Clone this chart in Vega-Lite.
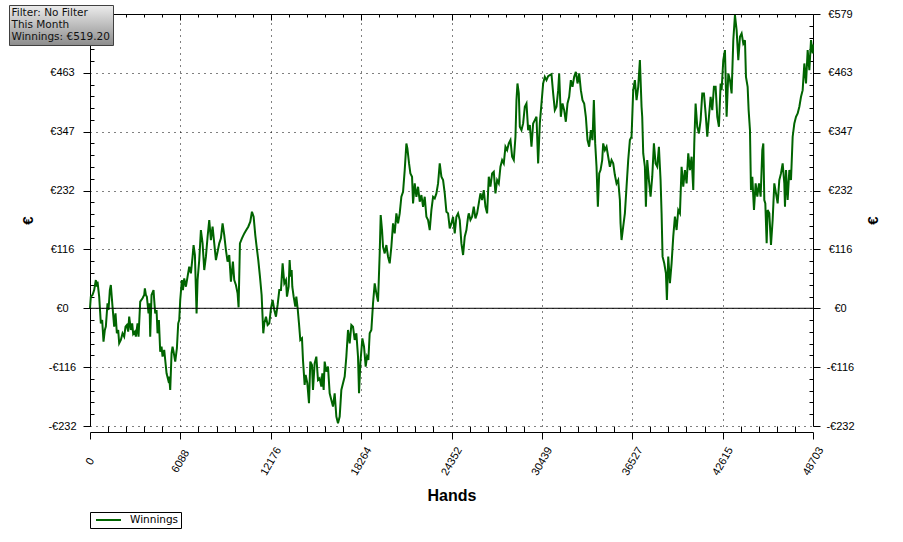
{
"$schema": "https://vega.github.io/schema/vega-lite/v6.json",
"width": 723, "height": 412,
"autosize": {"type": "none"},
"padding": {"left": 90, "top": 14, "right": 90, "bottom": 116},
"background": "white",
"config": {"view": {"stroke": null}, "font": "Liberation Sans"},
"datasets": {"winnings": [
{"h":0,"w":0},{"h":56,"w":22.8},{"h":169,"w":26.1},{"h":281,"w":35.9},{"h":393,"w":55.6},{"h":461,"w":42.5},{"h":506,"w":52.3},{"h":618,"w":22.8},{"h":730,"w":-29.6},{"h":820,"w":-23.0},{"h":910,"w":-65.6},{"h":1000,"w":-42.7},{"h":1067,"w":-36.1},{"h":1180,"w":9.7},{"h":1247,"w":-3.4},{"h":1337,"w":35.9},{"h":1404,"w":45.8},{"h":1517,"w":3.2},{"h":1629,"w":-36.1},{"h":1719,"w":-10},{"h":1809,"w":-49.2},{"h":1899,"w":-42.7},{"h":1966,"w":-68.9},{"h":2078,"w":-62.3},{"h":2191,"w":-49.2},{"h":2303,"w":-55.8},{"h":2393,"w":-36.1},{"h":2483,"w":-32.9},{"h":2573,"w":-46.0},{"h":2640,"w":-16.5},{"h":2753,"w":-42.7},{"h":2842,"w":-29.6},{"h":2910,"w":-50.6},{"h":3022,"w":-46.0},{"h":3090,"w":-55.8},{"h":3202,"w":-29.6},{"h":3269,"w":-55.8},{"h":3382,"w":13.0},{"h":3539,"w":19.6},{"h":3651,"w":26.1},{"h":3696,"w":39.2},{"h":3764,"w":26.1},{"h":3831,"w":22.8},{"h":3943,"w":-10},{"h":4011,"w":9.7},{"h":4056,"w":-55.8},{"h":4146,"w":26.1},{"h":4280,"w":35.9},{"h":4325,"w":16.3},{"h":4393,"w":-10},{"h":4483,"w":-3.4},{"h":4550,"w":-49.2},{"h":4640,"w":-23.0},{"h":4730,"w":-85.3},{"h":4820,"w":-75.4},{"h":4887,"w":-95.1},{"h":4999,"w":-82.0},{"h":5067,"w":-101.7},{"h":5157,"w":-127.9},{"h":5269,"w":-141.0},{"h":5336,"w":-134.4},{"h":5404,"w":-160.6},{"h":5494,"w":-88.6},{"h":5561,"w":-75.5},{"h":5629,"w":-85.3},{"h":5741,"w":-105},{"h":5853,"w":-78.7},{"h":5943,"w":-29.6},{"h":6011,"w":-23.0},{"h":6078,"w":16.3},{"h":6190,"w":55.6},{"h":6258,"w":35.9},{"h":6348,"w":58.9},{"h":6460,"w":42.5},{"h":6573,"w":62.2},{"h":6685,"w":81.8},{"h":6797,"w":68.7},{"h":6910,"w":101.5},{"h":6977,"w":124.4},{"h":7067,"w":104.8},{"h":7179,"w":-10},{"h":7247,"w":55.6},{"h":7359,"w":94.9},{"h":7471,"w":153.9},{"h":7584,"w":127.7},{"h":7696,"w":75.3},{"h":7808,"w":101.5},{"h":7921,"w":140.8},{"h":8033,"w":173.6},{"h":8145,"w":134.2},{"h":8257,"w":160.5},{"h":8370,"w":127.7},{"h":8482,"w":94.9},{"h":8594,"w":111.3},{"h":8707,"w":127.7},{"h":8819,"w":137.5},{"h":8931,"w":167.0},{"h":9044,"w":144.1},{"h":9156,"w":114.6},{"h":9268,"w":91.7},{"h":9380,"w":104.8},{"h":9493,"w":52.3},{"h":9627,"w":91.7},{"h":9717,"w":55.6},{"h":9829,"w":45.8},{"h":9942,"w":29.4},{"h":10010,"w":1.9},{"h":10100,"w":127.7},{"h":10235,"w":137.5},{"h":10393,"w":147.4},{"h":10527,"w":153.9},{"h":10662,"w":160.5},{"h":10797,"w":170.3},{"h":10909,"w":190.0},{"h":11022,"w":180.1},{"h":11134,"w":144.1},{"h":11224,"w":121.1},{"h":11336,"w":94.9},{"h":11449,"w":62.2},{"h":11561,"w":26.1},{"h":11673,"w":-49.2},{"h":11741,"w":-29.6},{"h":11853,"w":-16.5},{"h":11965,"w":-32.9},{"h":12078,"w":-29.6},{"h":12190,"w":0},{"h":12302,"w":16.3},{"h":12415,"w":-3.4},{"h":12527,"w":-16.5},{"h":12639,"w":6.5},{"h":12752,"w":35.9},{"h":12864,"w":35.9},{"h":12976,"w":88.4},{"h":13089,"w":49.0},{"h":13201,"w":55.6},
{"h":13268,"w":22.9},{"h":13381,"w":42.5},{"h":13448,"w":94.9},{"h":13516,"w":62.2},{"h":13583,"w":75.3},{"h":13628,"w":42.5},{"h":13718,"w":22.9},{"h":13830,"w":3.2},{"h":13898,"w":22.9},{"h":13988,"w":0},{"h":14077,"w":-29.6},{"h":14167,"w":-62.3},{"h":14280,"w":-59.1},{"h":14347,"w":-101.7},{"h":14459,"w":-150.8},{"h":14527,"w":-131.1},{"h":14639,"w":-147.5},{"h":14751,"w":-186.8},{"h":14841,"w":-104.9},{"h":14953,"w":-111.5},{"h":15021,"w":-160.6},{"h":15133,"w":-108.2},{"h":15246,"w":-95.1},{"h":15358,"w":-141},{"h":15470,"w":-137.7},{"h":15583,"w":-154.1},{"h":15650,"w":-127.9},{"h":15740,"w":-160.6},{"h":15808,"w":-104.9},{"h":15920,"w":-124.6},{"h":16032,"w":-114.8},{"h":16145,"w":-167.2},{"h":16257,"w":-180.3},{"h":16369,"w":-193.4},{"h":16482,"w":-167.2},{"h":16594,"w":-213.1},{"h":16706,"w":-226.2},{"h":16819,"w":-213.1},{"h":16931,"w":-160.6},{"h":17043,"w":-147.5},{"h":17156,"w":-134.4},{"h":17268,"w":-95.1},{"h":17380,"w":-42.7},{"h":17493,"w":-69},{"h":17605,"w":-32.9},{"h":17717,"w":-36.1},{"h":17830,"w":-62.3},{"h":17942,"w":-49.2},{"h":18054,"w":-95.1},{"h":18122,"w":-167.2},{"h":18212,"w":-108.2},{"h":18347,"w":-59.1},{"h":18459,"w":-75.4},{"h":18571,"w":-114.8},{"h":18661,"w":-95.1},{"h":18751,"w":-101.7},{"h":18841,"w":-49.2},{"h":18953,"w":-42.7},{"h":19066,"w":9.8},{"h":19178,"w":49.1},{"h":19290,"w":29.4},{"h":19402,"w":13.0},{"h":19515,"w":108.0},{"h":19582,"w":183.4},{"h":19672,"w":153.9},{"h":19740,"w":121.1},{"h":19852,"w":108.0},{"h":19964,"w":124.4},{"h":20077,"w":101.5},{"h":20189,"w":88.4},{"h":20301,"w":121.1},{"h":20414,"w":167.0},{"h":20526,"w":147.4},{"h":20638,"w":186.7},{"h":20751,"w":167.0},{"h":20863,"w":186.7},{"h":20975,"w":219.4},{"h":21088,"w":229.3},{"h":21200,"w":271.9},{"h":21312,"w":324.3},{"h":21380,"w":314.5},{"h":21492,"w":285},{"h":21582,"w":265.3},{"h":21694,"w":258.8},{"h":21762,"w":206.3},{"h":21874,"w":245.7},{"h":21987,"w":219.4},{"h":22099,"w":239.1},{"h":22211,"w":209.6},{"h":22324,"w":222.7},{"h":22436,"w":199.8},{"h":22548,"w":219.4},{"h":22661,"w":180.1},{"h":22773,"w":173.6},{"h":22885,"w":153.9},{"h":22997,"w":193.2},{"h":23110,"w":219.4},{"h":23222,"w":216.2},{"h":23334,"w":226},{"h":23447,"w":245.7},{"h":23559,"w":285},{"h":23671,"w":258.8},{"h":23784,"w":252.2},{"h":23896,"w":226},{"h":24008,"w":190},{"h":24121,"w":186.7},{"h":24233,"w":157.2},{"h":24345,"w":167.0},{"h":24458,"w":180.1},{"h":24570,"w":147.4},{"h":24682,"w":180.1},{"h":24795,"w":186.7},{"h":24907,"w":173.6},{"h":25019,"w":127.7},{"h":25132,"w":104.8},{"h":25244,"w":140.8},{"h":25356,"w":153.9},{"h":25469,"w":180.1},
{"h":25515,"w":186.8},{"h":25627,"w":173.7},{"h":25740,"w":180.2},{"h":25852,"w":199.9},{"h":25964,"w":176.9},{"h":26077,"w":186.8},{"h":26189,"w":206.4},{"h":26301,"w":226.1},{"h":26414,"w":213.0},{"h":26526,"w":232.6},{"h":26638,"w":199.9},{"h":26751,"w":186.8},{"h":26863,"w":258.8},{"h":26975,"w":239.2},{"h":27088,"w":265.4},{"h":27200,"w":268.7},{"h":27312,"w":226.1},{"h":27425,"w":252.3},{"h":27537,"w":245.7},{"h":27649,"w":278.5},{"h":27762,"w":291.6},{"h":27874,"w":285.1},{"h":27986,"w":317.8},{"h":28099,"w":311.3},{"h":28211,"w":324.4},{"h":28323,"w":330.9},{"h":28436,"w":298.2},{"h":28548,"w":291.6},{"h":28660,"w":337.5},{"h":28728,"w":409.6},{"h":28795,"w":442.3},{"h":28885,"w":422.7},{"h":28953,"w":357.1},{"h":29065,"w":350.6},{"h":29177,"w":363.7},{"h":29290,"w":396.5},{"h":29402,"w":403},{"h":29514,"w":350.6},{"h":29627,"w":360.4},{"h":29739,"w":317.8},{"h":29851,"w":363.7},{"h":29964,"w":370.2},{"h":30076,"w":376.8},{"h":30188,"w":285.1},{"h":30301,"w":363.7},{"h":30413,"w":403},{"h":30525,"w":442.3},{"h":30638,"w":455.4},{"h":30750,"w":448.9},{"h":30863,"w":456.7},{"h":30975,"w":458.7},{"h":31087,"w":460.7},{"h":31200,"w":422.7},{"h":31312,"w":389.9},{"h":31424,"w":396.5},{"h":31537,"w":429.2},{"h":31604,"w":462.0},{"h":31716,"w":376.8},{"h":31829,"w":403},{"h":31941,"w":389.9},{"h":32053,"w":367},{"h":32166,"w":403},{"h":32278,"w":416.1},{"h":32390,"w":448.9},{"h":32503,"w":435.8},{"h":32615,"w":455.4},{"h":32728,"w":465.3},{"h":32840,"w":442.3},{"h":32952,"w":462.0},{"h":33065,"w":429.2},{"h":33177,"w":409.6},{"h":33289,"w":403},{"h":33402,"w":376.8},{"h":33514,"w":330.9},{"h":33626,"w":317.8},{"h":33739,"w":350.6},{"h":33851,"w":330.9},{"h":33941,"w":409.6},{"h":34031,"w":324.4},{"h":34121,"w":278.5},{"h":34211,"w":199.9},{"h":34301,"w":265.4},{"h":34391,"w":271.9},{"h":34503,"w":291.6},{"h":34570,"w":324.4},{"h":34683,"w":311.3},{"h":34795,"w":317.8},{"h":34907,"w":298.2},{"h":35020,"w":278.5},{"h":35132,"w":291.6},{"h":35244,"w":285.1},{"h":35357,"w":262.1},{"h":35469,"w":245.7},{"h":35581,"w":252.3},{"h":35694,"w":213},{"h":35739,"w":167.1},{"h":35806,"w":134.3},{"h":35918,"w":160.6},{"h":36031,"w":186.8},{"h":36143,"w":239.2},{"h":36255,"w":291.6},{"h":36368,"w":330.9},{"h":36480,"w":337.5},{"h":36592,"w":429.2},{"h":36705,"w":448.9},{"h":36817,"w":409.6},{"h":36929,"w":435.8},{"h":37042,"w":488.2},{"h":37154,"w":396.5},
{"h":37199,"w":376.8},{"h":37267,"w":304.7},{"h":37379,"w":278.5},{"h":37447,"w":199.9},{"h":37537,"w":291.6},{"h":37649,"w":252.3},{"h":37761,"w":219.5},{"h":37874,"w":258.9},{"h":37986,"w":324.4},{"h":38098,"w":285.1},{"h":38211,"w":278.5},{"h":38323,"w":317.8},{"h":38435,"w":252.3},{"h":38503,"w":186.8},{"h":38570,"w":101.6},{"h":38682,"w":88.5},{"h":38795,"w":68.8},{"h":38862,"w":16.4},{"h":38952,"w":101.6},{"h":39065,"w":49.2},{"h":39177,"w":88.5},{"h":39289,"w":140.9},{"h":39402,"w":180.2},{"h":39514,"w":154},{"h":39626,"w":193.3},{"h":39739,"w":186.8},{"h":39851,"w":278.5},{"h":39963,"w":239.2},{"h":40076,"w":272.0},{"h":40188,"w":245.8},{"h":40300,"w":304.7},{"h":40413,"w":272.0},{"h":40525,"w":298.2},{"h":40637,"w":232.6},{"h":40705,"w":324.4},{"h":40795,"w":403.0},{"h":40907,"w":357.1},{"h":41019,"w":344.0},{"h":41132,"w":370.3},{"h":41244,"w":422.7},{"h":41356,"w":422.7},{"h":41469,"w":383.4},{"h":41581,"w":337.5},{"h":41693,"w":376.8},{"h":41806,"w":416.1},{"h":41918,"w":389.9},{"h":42030,"w":435.8},{"h":42143,"w":435.8},{"h":42255,"w":376.8},{"h":42367,"w":357.1},{"h":42480,"w":442.3},{"h":42547,"w":429.2},{"h":42660,"w":488.2},{"h":42772,"w":507.9},{"h":42884,"w":376.8},{"h":42997,"w":462.0},{"h":43109,"w":448.9},{"h":43221,"w":422.7},{"h":43334,"w":527.5},{"h":43446,"w":576.7},{"h":43558,"w":547.2},{"h":43671,"w":488.2},{"h":43783,"w":534.1},{"h":43895,"w":540.6},{"h":44008,"w":521.0},{"h":44120,"w":527.5},{"h":44188,"w":455.4},{"h":44300,"w":435.8},{"h":44367,"w":389.9},{"h":44457,"w":350.6},{"h":44525,"w":232.6},{"h":44614,"w":258.9},{"h":44727,"w":193.3},{"h":44839,"w":245.8},{"h":44952,"w":219.5},{"h":45064,"w":245.8},{"h":45176,"w":219.5},{"h":45288,"w":311.3},{"h":45356,"w":324.4},{"h":45423,"w":213},{"h":45491,"w":206.4},{"h":45581,"w":127.8},{"h":45648,"w":193.3},{"h":45760,"w":186.8},{"h":45873,"w":124.5},{"h":45985,"w":173.7},{"h":46097,"w":245.8},{"h":46210,"w":226.1},{"h":46322,"w":206.4},{"h":46434,"w":252.3},{"h":46547,"w":265.4},{"h":46659,"w":285.1},{"h":46771,"w":245.8},{"h":46816,"w":199.9},{"h":46884,"w":272},{"h":46996,"w":213},{"h":47109,"w":272},{"h":47221,"w":252.3},{"h":47333,"w":337.5},{"h":47446,"w":363.7},{"h":47558,"w":376.8},{"h":47670,"w":383.4},{"h":47783,"w":396.5},{"h":47895,"w":416.1},{"h":48007,"w":429.2},{"h":48120,"w":481.7},{"h":48232,"w":442.3},{"h":48344,"w":507.9},{"h":48457,"w":468.5},{"h":48569,"w":527.5},{"h":48681,"w":501.3},{"h":48703,"w":519.2}
]},
"layer": [
{
"data": {"name": "winnings"},
"mark": {"type": "line", "strokeWidth": 2},
"encoding": {
"x": {"field": "h", "type": "quantitative",
 "scale": {"domain": [0, 48703], "nice": false, "zero": false},
 "axis": {"orient": "bottom", "offset": 6,
  "values": [0,1217.575,2435.15,3652.725,4870.3,6087.875,7305.45,8523.025,9740.6,10958.175,12175.75,13393.325,14610.9,15828.475,17046.05,18263.625,19481.2,20698.775,21916.35,23133.925,24351.5,25569.075,26786.65,28004.225,29221.8,30439.375,31656.95,32874.525,34092.1,35309.675,36527.25,37744.825,38962.4,40179.975,41397.55,42615.125,43832.7,45050.275,46267.85,47485.425,48703],
  "domainColor": "black", "tickColor": "black",
  "tickSize": {"condition": {"test": "abs(datum.value/6087.875 - round(datum.value/6087.875)) < 0.01", "value": 7}, "value": -6},
  "grid": false,
  "labelExpr": "abs(datum.value/6087.875 - round(datum.value/6087.875)) < 0.01 ? '' + round(datum.value) : ''",
  "labelAngle": -60, "labelAlign": "center", "labelBaseline": "middle", "labelPadding": 22,
  "labelFont": "Liberation Sans", "labelFontSize": 11, "labelColor": "black",
  "labelOverlap": false, "labelFlush": false, "labelBound": false,
  "title": "Hands", "titleFont": "Liberation Sans", "titleFontSize": 16, "titleFontWeight": "bold", "titleColor": "black", "titlePadding": 11}},
"y": {"field": "w", "type": "quantitative",
 "scale": {"domain": [-231.6, 579], "nice": false, "zero": false},
 "axis": {"orient": "left",
  "values": [-231.6,-208.44,-185.28,-162.12,-138.96,-115.8,-92.64,-69.48,-46.32,-23.16,0,23.16,46.32,69.48,92.64,115.8,138.96,162.12,185.28,208.44,231.6,254.76,277.92,301.08,324.24,347.4,370.56,393.72,416.88,440.04,463.2,486.36,509.52,532.68,555.84,579],
  "domainColor": "black", "tickColor": "black",
  "tickSize": {"condition": {"test": "abs(datum.value/115.8 - round(datum.value/115.8)) < 0.01", "value": 7}, "value": -4},
  "grid": true, "gridColor": "black", "gridDash": [1, 5],
  "gridOpacity": {"condition": {"test": "abs(datum.value/115.8 - round(datum.value/115.8)) < 0.01", "value": 1}, "value": 0},
  "labelExpr": "abs(datum.value/115.8 - round(datum.value/115.8)) < 0.01 && datum.value < 578 ? (datum.value < -0.01 ? '-€' : '€') + round(abs(datum.value)) : ''",
  "labelAlign": "center", "labelBaseline": "middle", "labelPadding": 21,
  "labelFont": "Liberation Sans", "labelFontSize": 11, "labelColor": "black",
  "labelOverlap": false, "labelFlush": false, "labelBound": false,
  "title": "€", "titleAngle": 270, "titleFont": "Liberation Sans", "titleFontSize": 15, "titleFontWeight": "bold", "titleColor": "black", "titlePadding": 12}},
"color": {"datum": "Winnings", "type": "nominal", "scale": {"range": ["#006400"]},
 "legend": {"orient": "none", "legendX": 0, "legendY": 498, "title": null,
  "symbolType": "M-0.4,0H4.6", "symbolSize": 100, "symbolStrokeWidth": 2,
  "padding": 2, "strokeColor": "black", "fillColor": "white",
  "labelFont": "DejaVu Sans", "labelFontSize": 10.5, "labelColor": "black", "labelOffset": 26}}
}
},
{
"data": {"values": [{"z": 0}]},
"mark": {"type": "rule", "color": "black", "strokeWidth": 1},
"encoding": {
"x": {"datum": 0, "type": "quantitative",
 "axis": {"orient": "top",
  "values": [0,1217.575,2435.15,3652.725,4870.3,6087.875,7305.45,8523.025,9740.6,10958.175,12175.75,13393.325,14610.9,15828.475,17046.05,18263.625,19481.2,20698.775,21916.35,23133.925,24351.5,25569.075,26786.65,28004.225,29221.8,30439.375,31656.95,32874.525,34092.1,35309.675,36527.25,37744.825,38962.4,40179.975,41397.55,42615.125,43832.7,45050.275,46267.85,47485.425,48703],
  "labels": false, "title": null, "domainColor": "black", "tickColor": "black",
  "tickSize": {"condition": {"test": "abs(datum.value/6087.875 - round(datum.value/6087.875)) < 0.01", "value": -6}, "value": -3},
  "grid": true, "gridColor": "black", "gridDash": [1, 5],
  "gridOpacity": {"condition": {"test": "abs(datum.value/6087.875 - round(datum.value/6087.875)) < 0.01", "value": 1}, "value": 0}}},
"x2": {"datum": 48703},
"y": {"field": "z", "type": "quantitative",
 "axis": {"orient": "right",
  "values": [-231.6,-208.44,-185.28,-162.12,-138.96,-115.8,-92.64,-69.48,-46.32,-23.16,0,23.16,46.32,69.48,92.64,115.8,138.96,162.12,185.28,208.44,231.6,254.76,277.92,301.08,324.24,347.4,370.56,393.72,416.88,440.04,463.2,486.36,509.52,532.68,555.84,579],
  "domainColor": "black", "tickColor": "black",
  "tickSize": {"condition": {"test": "abs(datum.value/115.8 - round(datum.value/115.8)) < 0.01", "value": 7}, "value": -4},
  "grid": false,
  "labelExpr": "abs(datum.value/115.8 - round(datum.value/115.8)) < 0.01 ? (datum.value < -0.01 ? '-€' : '€') + round(abs(datum.value)) : ''",
  "labelAlign": "center", "labelBaseline": "middle", "labelPadding": 20,
  "labelFont": "Liberation Sans", "labelFontSize": 11, "labelColor": "black",
  "labelOverlap": false, "labelFlush": false, "labelBound": false,
  "title": "€", "titleAngle": 270, "titleFont": "Liberation Sans", "titleFontSize": 15, "titleFontWeight": "bold", "titleColor": "black", "titlePadding": 26}},
"strokeDash": {"datum": "Filter: No Filter", "type": "nominal",
 "scale": {"domain": ["Filter: No Filter", "This Month", "Winnings: €519.20"], "range": [[1, 0], [1, 0], [1, 0]]},
 "legend": {"orient": "none", "legendX": -81, "legendY": -9, "title": null,
  "padding": 2.5, "rowPadding": 1,
  "fillColor": {"expr": "{gradient: 'linear', x1: 0, y1: 0, x2: 0, y2: 1, stops: [{offset: 0, color: '#ececec'}, {offset: 1, color: '#8c8c8c'}]}"},
  "strokeColor": "#404040",
  "symbolSize": 0, "symbolOpacity": 0, "symbolStrokeWidth": 0, "labelOffset": -10.5,
  "labelFont": "DejaVu Sans", "labelFontSize": 10.5, "labelColor": "#111111", "labelLimit": 300}}
}
}
],
"resolve": {"axis": {"x": "independent", "y": "independent"}}
}
